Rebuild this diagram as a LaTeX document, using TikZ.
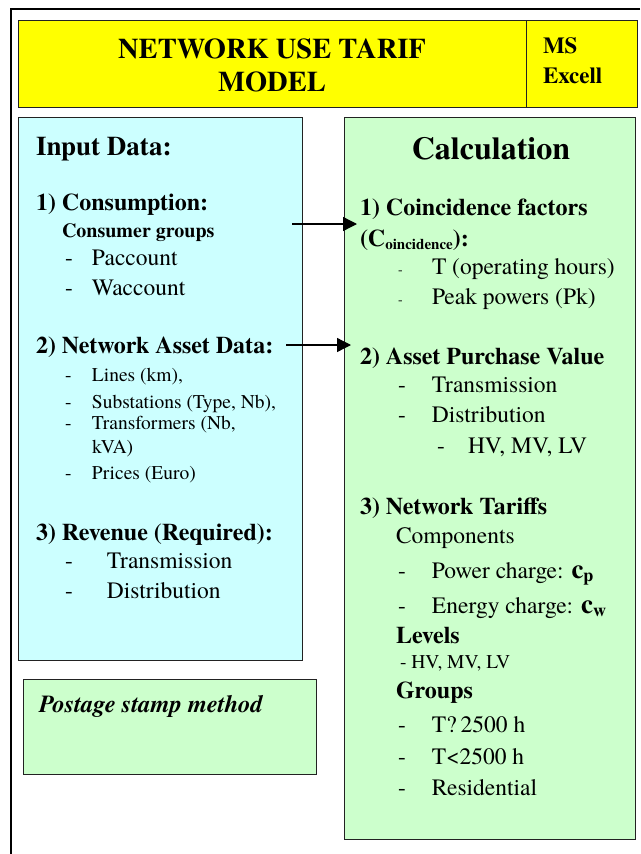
\documentclass[tikz,border=0pt]{standalone}
\usepackage{fontspec}
\setmainfont{texgyretermes}[
  Extension=.otf,
  UprightFont=*-regular,
  BoldFont=*-bold,
  ItalicFont=*-italic,
  BoldItalicFont=*-bolditalic]
\usetikzlibrary{arrows.meta}

\definecolor{titleyellow}{HTML}{FFFF00}
\definecolor{inputblue}{HTML}{CCFFFF}
\definecolor{calcgreen}{HTML}{CCFFCC}
\definecolor{edgegray}{HTML}{222222}

\newcommand{\fs}[1]{\fontsize{#1}{#1}\selectfont}
\newcommand{\dashitem}[2]{\makebox[#1][l]{-}#2}

\tikzset{
  panel/.style={draw=edgegray, line width=1pt, anchor=north west, inner sep=0pt},
  lbl/.style={anchor=base west, inner sep=0pt, outer sep=0pt},
  bighead/.style={lbl, font=\fs{27}\bfseries},
  head/.style={lbl, font=\fs{24}\bfseries},
  body/.style={lbl, font=\fs{23.5}},
  small/.style={lbl, font=\fs{19.5}},
  link/.style={line width=1.3pt, -{Triangle[length=14pt,width=14pt]}},
}

\begin{document}
\begin{tikzpicture}[x=1pt,y=-1pt]
\useasboundingbox (0,0) rectangle (640,854);

% outer frame (runs off the page to the right and bottom)
\draw[line width=2pt] (640,9) -- (11,9) -- (11,854);

% title bar
\node[panel, fill=titleyellow, minimum width=508pt, minimum height=87pt] (titlebox) at (18,20) {};
\node[panel, fill=titleyellow, minimum width=111pt, minimum height=87pt] (toolbox) at (526,20) {};
\node[anchor=base, inner sep=0pt, font=\fs{28.5}\bfseries] (title1) at (272,58) {NETWORK USE TARIF};
\node[anchor=base, inner sep=0pt, font=\fs{28.5}\bfseries] (title2) at (272,91) {MODEL};
\node[lbl, font=\fs{23}\bfseries] (tool1) at (543,53) {MS};
\node[lbl, font=\fs{23}\bfseries] (tool2) at (543,83) {Excell};

% input panel
\node[panel, fill=inputblue, minimum width=284pt, minimum height=543pt] (input) at (18,117) {};
\node[bighead] (inhead) at (36,155) {Input Data:};
\node[head] (cons) at (36,210) {1) Consumption:};
\node[lbl, font=\fs{20}\bfseries] (consg) at (62,237) {Consumer groups};
\node[body] (pacc) at (65,265) {\dashitem{27pt}{Paccount}};
\node[body] (wacc) at (65,295) {\dashitem{27pt}{Waccount}};
\node[head] (asset) at (36,353) {2) Network Asset Data:};
\node[small] (lines) at (65,381) {\dashitem{27pt}{Lines (km),}};
\node[small] (subst) at (65,408) {\dashitem{27pt}{Substations (Type, Nb),}};
\node[small] (trafo) at (65,429) {\dashitem{27pt}{Transformers (Nb,}};
\node[small] (trafob) at (92,453) {kVA)};
\node[small] (price) at (65,479) {\dashitem{27pt}{Prices (Euro)}};
\node[head] (rev) at (36,540) {3) Revenue (Required):};
\node[body] (revt) at (65,568) {\dashitem{42pt}{Transmission}};
\node[body] (revd) at (65,598) {\dashitem{42pt}{Distribution}};

% method panel
\node[panel, fill=calcgreen, minimum width=293pt, minimum height=95pt] (method) at (23,679) {};
\node[lbl, font=\fs{24.5}\bfseries\itshape] (methodtxt) at (39,712) {Postage stamp method};

% calculation panel
\node[panel, fill=calcgreen, minimum width=291pt, minimum height=722pt] (calc) at (344,117) {};
\node[anchor=base, inner sep=0pt, font=\fs{32}\bfseries] (calchead) at (491,159) {Calculation};
\node[head] (coin) at (360,215) {1) Coincidence factors};
\node[head] (coinb) at (360,246) {(C\raisebox{-3pt}{\fs{15}oincidence}):};
\node[body] (oph) at (398,274) {\makebox[34pt][l]{\fs{14}-}T (operating hours)};
\node[body] (peak) at (398,304) {\makebox[34pt][l]{\fs{14}-}Peak powers (Pk)};
\node[head] (apv) at (360,364) {2) Asset Purchase Value};
\node[body] (apvt) at (398,392) {\dashitem{34pt}{Transmission}};
\node[body] (apvd) at (398,422) {\dashitem{34pt}{Distribution}};
\node[body] (apvl) at (437,453) {\dashitem{31pt}{HV, MV, LV}};
\node[head] (tar) at (360,514) {3) Network Tariffs};
\node[body] (comp) at (396,543) {Components};
\node[body] (pch) at (398,578) {\dashitem{34pt}{Power charge: \textbf{\fs{27}c\raisebox{-3pt}{\fs{18}p}}}};
\node[body] (ech) at (398,613) {\dashitem{34pt}{Energy charge: \textbf{\fs{27}c\raisebox{-3pt}{\fs{18}w}}}};
\node[head] (lev) at (396,643) {Levels};
\node[small] (levl) at (400,668) {- HV, MV, LV};
\node[head] (grp) at (396,698) {Groups};
\node[body] (grp1) at (398,732) {\dashitem{34pt}{T?\,2500 h}};
\node[body] (grp2) at (398,764) {\dashitem{34pt}{T<2500 h}};
\node[body] (grp3) at (398,795) {\dashitem{34pt}{Residential}};

% connectors
\coordinate (consout) at (292,224);
\coordinate (coinin) at (357,224);
\coordinate (assetout) at (286,345);
\coordinate (apvin) at (351,345);
\draw[link] (consout) -- (coinin);
\draw[link] (assetout) -- (apvin);
\end{tikzpicture}
\end{document}
